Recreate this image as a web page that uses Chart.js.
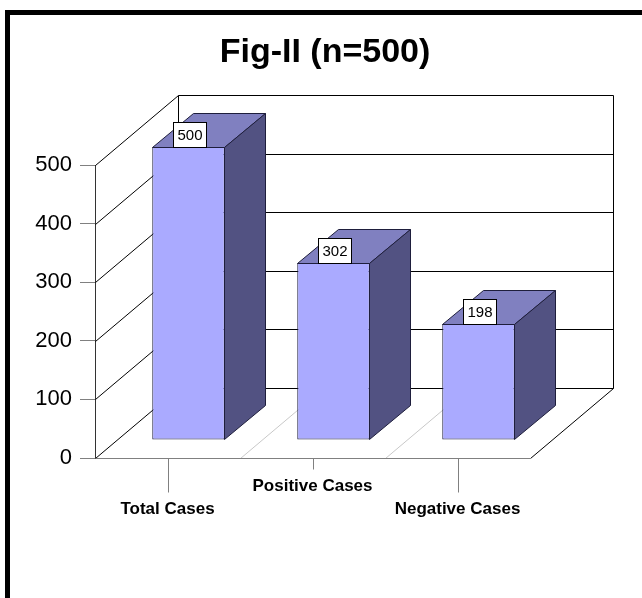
<!DOCTYPE html>
<html>
<head>
<meta charset="utf-8">
<script src="https://cdn.jsdelivr.net/npm/chart.js@4.4.1/dist/chart.umd.min.js"></script>
<style>
  html, body { margin: 0; padding: 0; background: #fff; width: 642px; height: 598px; overflow: hidden; }
  #frame { position: absolute; left: 5px; top: 10px; width: 1000px; height: 1000px; border: 5px solid #000; }
  #wrap { position: absolute; left: 0; top: 0; width: 642px; height: 598px; }
</style>
</head>
<body>
<div id="frame"></div>
<div id="wrap"><canvas id="chart" width="642" height="598"></canvas></div>
<script>
// Chart data
const categories = ['Total Cases', 'Positive Cases', 'Negative Cases'];
const cases = [500, 302, 198];
const yTicks = [0, 100, 200, 300, 400, 500];
const chartTitle = 'Fig-II (n=500)';

const FONT = '"Liberation Sans", Arial, Helvetica, sans-serif';

// 3D projection offsets (pixels): full depth of the floor, bar front plane, bar depth
const DEPTH = { x: 83, y: -70 };
const BAR_FRONT = { x: 21, y: -18 };
const BAR_DEPTH = { x: 41, y: -34 };

const COLORS = {
  front: '#AAAAFF',
  top: '#8080C0',
  side: '#525282',
  edge: '#1e1e3c',
  grid: '#000000',
  axis: '#808080',
  floorDivider: '#c8c8c8'
};

function seg(ctx, x1, y1, x2, y2) {
  ctx.beginPath();
  ctx.moveTo(x1, y1);
  ctx.lineTo(x2, y2);
  ctx.stroke();
}

const box3d = {
  id: 'box3d',
  beforeDatasetsDraw(chart) {
    const { ctx, chartArea: a, scales: { x, y } } = chart;
    const L = a.left + 0.5, R = Math.round(a.right) + 0.5;
    const yTop = Math.round(y.getPixelForValue(yTicks[yTicks.length - 1])) + 0.5;
    const y0 = Math.round(y.getPixelForValue(0)) + 0.5;
    ctx.save();
    ctx.lineWidth = 1;

    // floor: category dividers
    ctx.strokeStyle = COLORS.floorDivider;
    const step = (a.right - a.left) / categories.length;
    for (let k = 1; k < categories.length; k++) {
      const px = Math.round(a.left + k * step) + 0.5;
      seg(ctx, px, y0, px + DEPTH.x, y0 + DEPTH.y);
    }

    // side wall diagonals and back wall gridlines
    ctx.strokeStyle = COLORS.grid;
    yTicks.forEach(v => {
      const py = Math.round(y.getPixelForValue(v)) + 0.5;
      seg(ctx, L, py, L + DEPTH.x, py + DEPTH.y);
      seg(ctx, L + DEPTH.x, py + DEPTH.y, R + DEPTH.x, py + DEPTH.y);
    });
    // back wall vertical edges
    seg(ctx, L + DEPTH.x, yTop + DEPTH.y, L + DEPTH.x, y0 + DEPTH.y);
    seg(ctx, R + DEPTH.x, yTop + DEPTH.y, R + DEPTH.x, y0 + DEPTH.y);
    // floor right edge
    seg(ctx, R, y0, R + DEPTH.x, y0 + DEPTH.y);
    // floor front edge
    ctx.strokeStyle = COLORS.axis;
    seg(ctx, L, y0, R, y0);

    // category tick marks below the floor
    categories.forEach((c, i) => {
      const px = Math.round(x.getPixelForTick(i)) + 0.5;
      seg(ctx, px, y0, px, y0 + (i % 2 === 0 ? 34 : 11));
    });
    ctx.restore();

    // bar fronts are drawn by the chart itself, pushed into the depth
    ctx.save();
    ctx.translate(BAR_FRONT.x, BAR_FRONT.y);
  },
  afterDatasetsDraw(chart) {
    const { ctx } = chart;
    ctx.restore();
    ctx.save();
    const meta = chart.getDatasetMeta(0);
    ctx.lineWidth = 1;
    ctx.strokeStyle = COLORS.edge;
    ctx.lineJoin = 'miter';
    meta.data.forEach((bar, i) => {
      const p = bar.getProps(['x', 'y', 'base', 'width'], true);
      const x0 = Math.round(p.x - p.width / 2 + BAR_FRONT.x) + 0.5;
      const x1 = Math.round(p.x + p.width / 2 + BAR_FRONT.x) - 0.5;
      const t = Math.round(p.y + BAR_FRONT.y) + 0.5;
      const b = Math.round(p.base + BAR_FRONT.y) - 0.5;
      // top face
      ctx.fillStyle = COLORS.top;
      ctx.beginPath();
      ctx.moveTo(x0, t);
      ctx.lineTo(x1, t);
      ctx.lineTo(x1 + BAR_DEPTH.x, t + BAR_DEPTH.y);
      ctx.lineTo(x0 + BAR_DEPTH.x, t + BAR_DEPTH.y);
      ctx.closePath();
      ctx.fill();
      ctx.stroke();
      // side face
      ctx.fillStyle = COLORS.side;
      ctx.beginPath();
      ctx.moveTo(x1, t);
      ctx.lineTo(x1 + BAR_DEPTH.x, t + BAR_DEPTH.y);
      ctx.lineTo(x1 + BAR_DEPTH.x, b + BAR_DEPTH.y);
      ctx.lineTo(x1, b);
      ctx.closePath();
      ctx.fill();
      ctx.stroke();

      // value label box on the front top edge
      const text = String(cases[i]);
      ctx.font = '15px ' + FONT;
      const w = Math.round(ctx.measureText(text).width) + 8;
      const h = 25;
      const cx = Math.round(p.x + BAR_FRONT.x);
      const bx = Math.round(cx - w / 2) + 0.5;
      const by = t - h;
      ctx.fillStyle = '#ffffff';
      ctx.strokeStyle = '#000000';
      ctx.fillRect(bx, by, w, h);
      ctx.strokeRect(bx, by, w, h);
      ctx.fillStyle = '#000000';
      ctx.textAlign = 'center';
      ctx.textBaseline = 'middle';
      ctx.fillText(text, bx + w / 2, by + h / 2 + 1);
      ctx.strokeStyle = COLORS.edge;
    });
    ctx.restore();
  }
};

new Chart(document.getElementById('chart'), {
  type: 'bar',
  data: {
    labels: categories,
    datasets: [{
      data: cases,
      backgroundColor: COLORS.front,
      borderColor: COLORS.edge,
      borderWidth: 1,
      borderSkipped: false,
      barPercentage: 0.5,
      categoryPercentage: 1,
      clip: false
    }]
  },
  options: {
    responsive: false,
    animation: false,
    devicePixelRatio: 1,
    layout: { padding: { left: 8, right: 0, top: 0, bottom: 0 } },
    plugins: {
      legend: { display: false },
      tooltip: { enabled: false },
      title: {
        display: true,
        text: chartTitle,
        color: '#000',
        font: { family: FONT, size: 34, weight: 'bold', lineHeight: 1.2 },
        padding: { top: 32.6, bottom: 91.6 }
      }
    },
    scales: {
      x: {
        type: 'category',
        offset: true,
        grid: { display: false, drawTicks: false },
        border: { display: false },
        ticks: {
          color: '#000',
          padding: 16.5,
          maxRotation: 0,
          autoSkip: false,
          font: { family: FONT, size: 17, weight: 'bold', lineHeight: '23px' },
          callback(value, index) {
            const label = this.getLabelForValue(value);
            return index % 2 === 0 ? ['', label] : label;
          }
        },
        afterFit(scale) { scale.height = 140; }
      },
      y: {
        min: 0,
        max: 500,
        afterBuildTicks(scale) { scale.ticks = yTicks.map(v => ({ value: v })); },
        grid: { drawOnChartArea: false, drawTicks: true, tickLength: 15, color: COLORS.axis },
        border: { display: true, color: '#333333' },
        ticks: { color: '#000', padding: 8, font: { family: FONT, size: 22 } },
        afterFit(scale) { scale.width = 87; }
      },
      yRight: {
        position: 'right',
        display: true,
        grid: { display: false, drawTicks: false },
        border: { display: false },
        ticks: { display: false },
        afterFit(scale) { scale.width = 112; }
      }
    }
  },
  plugins: [box3d]
});
</script>
</body>
</html>
